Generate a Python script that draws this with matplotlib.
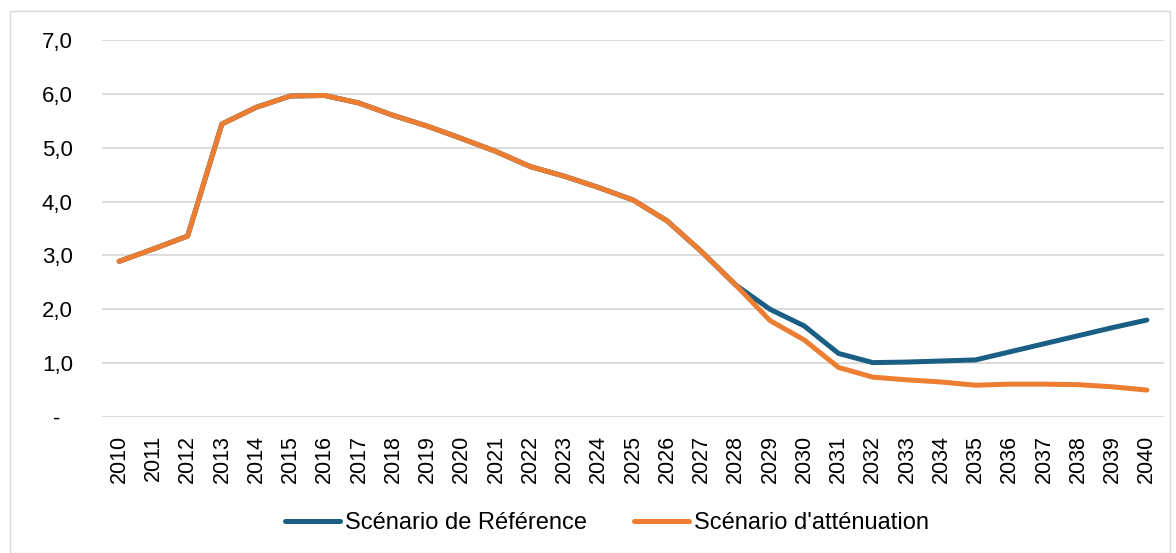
import matplotlib.pyplot as plt
from matplotlib.patches import Rectangle

plt.rcParams['font.family'] = ['Liberation Sans', 'DejaVu Sans']

years = list(range(2010, 2041))
reference = [2.89, 3.12, 3.36, 5.44, 5.75, 5.96, 5.97, 5.83, 5.60, 5.40,
             5.17, 4.93, 4.65, 4.47, 4.26, 4.03, 3.64, 3.07, 2.45, 2.00,
             1.69, 1.18, 1.01, 1.02, 1.04, 1.06, 1.21, 1.36, 1.51, 1.66, 1.80]
mitigation = [2.89, 3.12, 3.36, 5.44, 5.75, 5.96, 5.97, 5.83, 5.60, 5.40,
              5.17, 4.93, 4.65, 4.47, 4.26, 4.03, 3.64, 3.07, 2.45, 1.79,
              1.43, 0.92, 0.74, 0.69, 0.65, 0.59, 0.61, 0.61, 0.60, 0.56, 0.50]
yticks = [0, 1, 2, 3, 4, 5, 6, 7]
ytick_labels = ['-  ', '1,0', '2,0', '3,0', '4,0', '5,0', '6,0', '7,0']

fig = plt.figure(figsize=(11.76, 5.53), dpi=100)
ax = fig.add_axes([102 / 1176, 1 - 417 / 553, 1062 / 1176, 377 / 553])

x = range(len(years))
ax.plot(x, reference, color='#1b5e84', lw=3.6, solid_capstyle='round',
        label='Scénario de Référence')
ax.plot(x, mitigation, color='#ed7d31', lw=3.6, solid_capstyle='round',
        label="Scénario d'atténuation")

ax.set_xlim(-0.5, len(years) - 0.5)
ax.set_ylim(0, 7)
ax.set_xticks(list(x))
ax.set_xticklabels([str(y) for y in years], rotation=90, fontsize=15.5)
ax.set_yticks(yticks)
ax.set_yticklabels(ytick_labels, fontsize=16)
ax.tick_params(axis='y', length=0, pad=21)
ax.tick_params(axis='x', length=0, pad=13)
ax.grid(axis='y', color='#d9d9d9', lw=1.3)
ax.set_axisbelow(True)
for s in ax.spines.values():
    s.set_visible(False)

ax.legend(loc='center', bbox_to_anchor=(607 / 1176, 1 - 523 / 553),
          bbox_transform=fig.transFigure, ncol=2, frameon=False, fontsize=17,
          handlelength=2.33, handletextpad=0.2, columnspacing=2.0)

fig.patches.append(Rectangle((10 / 1176, 0), 1160 / 1176, 1 - 11 / 553,
                             transform=fig.transFigure, fill=False,
                             edgecolor='#d9d9d9', lw=1))

fig.savefig('out.png', dpi=100)
